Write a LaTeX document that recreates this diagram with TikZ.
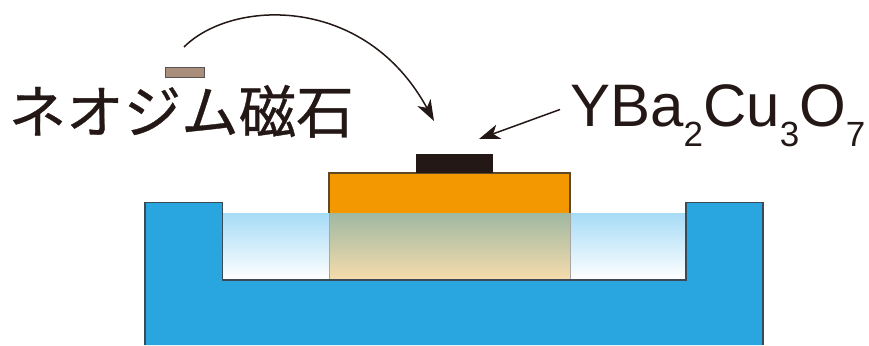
\documentclass[tikz,border=0pt]{standalone}
\usepackage{fontspec}
\setmainfont{Liberation Sans}
\newfontfamily\jpfont[FakeBold=0.6]{Noto Sans CJK JP}
\usetikzlibrary{arrows.meta}
\definecolor{inkdark}{HTML}{231815}
\definecolor{basinblue}{HTML}{29A5E0}
\definecolor{subamber}{HTML}{F39800}
\definecolor{magbrown}{HTML}{A98F7B}
\definecolor{edgeblue}{HTML}{3C4A55}
\definecolor{watertop}{HTML}{A6DBF6}
\definecolor{mixtop}{HTML}{9FB8A2}
\definecolor{mixbottom}{HTML}{F6DCAC}
\tikzset{
  pointer/.style={draw=inkdark,line width=1.5pt,-{Stealth[length=21pt,width=15pt,inset=6pt]}},
  formula/.style={inner sep=0pt,anchor=base west,text=inkdark,font=\fontsize{60}{60}\selectfont},
  jplabel/.style={inner sep=0pt,anchor=base west,text=inkdark,font=\fontsize{57.5}{57.5}\selectfont\jpfont},
}
\begin{document}
\begin{tikzpicture}[x=1pt,y=-1pt]
\useasboundingbox (0,0) rectangle (869,345);
% basin
\fill[basinblue] (145,345) -- (145,202.5) -- (222.5,202.5) -- (222.5,280) -- (686,280) -- (686,202.5) -- (763,202.5) -- (763,345) -- cycle;
% water
\shade[top color=watertop,bottom color=white] (222.5,213) rectangle (686,279.5);
% substrate
\fill[subamber] (329,173) rectangle (570,213);
\shade[top color=mixtop,bottom color=mixbottom] (329,213) rectangle (570,279.5);
\draw[edgeblue!60!subamber!70!black,line width=1.3pt] (329,213) |- (570,173) -- (570,213);
\draw[black!35,line width=1pt] (329,213) -- (329,279.5) (570,213) -- (570,279.5);
% basin outline
\draw[edgeblue,line width=1.5pt] (145,345) -- (145,202.5) -- (222.5,202.5) -- (222.5,280) -- (686,280) -- (686,202.5) -- (763,202.5) -- (763,345);
% film and magnet
\node[fill=inkdark,minimum width=77pt,minimum height=19pt,inner sep=0pt,anchor=north west] (film) at (415.5,154) {};
\node[fill=magbrown,draw=inkdark!75,line width=1.2pt,minimum width=39pt,minimum height=10pt,inner sep=0pt,anchor=north west] (magnet) at (164.5,66.5) {};
% labels
\node[jplabel] (maglabel) at (8.5,133) {ネオジム磁石};
\node[formula] (formulalabel) at (570,126) {YBa\raisebox{-20.5pt}{\fontsize{35}{35}\selectfont 2}Cu\raisebox{-20.5pt}{\fontsize{35}{35}\selectfont 3}O\raisebox{-20.5pt}{\fontsize{35}{35}\selectfont 7}};
% arrows
\coordinate (arcstart) at (184,47);
\coordinate (arcend) at (434,121);
\coordinate (ptrstart) at (560,109.5);
\coordinate (ptrend) at (479,139);
\draw[pointer] (arcstart) .. controls (232,-1) and (365,-6) .. (arcend);
\draw[pointer] (ptrstart) -- (ptrend);
\end{tikzpicture}
\end{document}
